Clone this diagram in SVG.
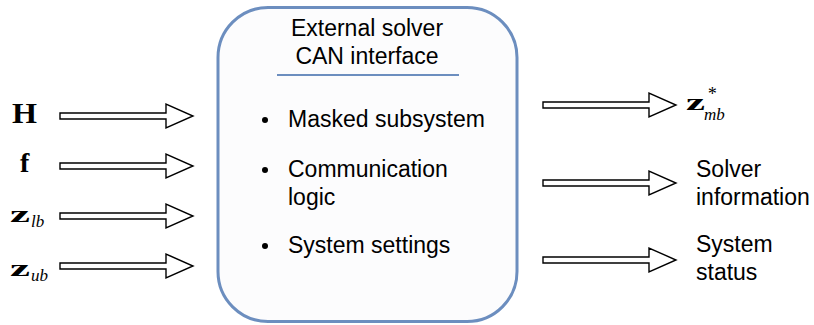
<svg xmlns="http://www.w3.org/2000/svg" width="814" height="325" viewBox="0 0 814 325">
  <style>
    .sans { font-family: "Liberation Sans", Arial, sans-serif; font-size: 23px; fill: #000; }
    .bold { font-family: "Liberation Serif", "Times New Roman", serif; font-weight: bold; fill: #000; }
    .ital { font-family: "Liberation Serif", "Times New Roman", serif; font-style: italic; fill: #000; }
    .arrow { fill: #fff; stroke: #000; stroke-width: 1.4; stroke-linejoin: miter; }
  </style>
  <rect width="814" height="325" fill="#fff"/>

  <!-- central block -->
  <g id="interface">
    <rect x="218" y="7.5" width="299" height="314" rx="50" ry="50" fill="#fcfcfd" stroke="#6c8ebf" stroke-width="3"/>
    <text class="sans" x="367" y="36" text-anchor="middle">External solver</text>
    <text class="sans" x="367" y="64" text-anchor="middle">CAN interface</text>
    <line x1="277" y1="75" x2="459" y2="75" stroke="#6c8ebf" stroke-width="2"/>
    <circle cx="265" cy="120" r="3"/>
    <text class="sans" x="288" y="127">Masked subsystem</text>
    <circle cx="265" cy="170" r="3"/>
    <text class="sans" x="288" y="177">Communication</text>
    <text class="sans" x="288" y="205">logic</text>
    <circle cx="265" cy="246" r="3"/>
    <text class="sans" x="288" y="253">System settings</text>
  </g>

  <!-- input labels -->
  <g id="in-H"><text class="bold" x="12" y="123" font-size="29" textLength="25" lengthAdjust="spacingAndGlyphs">H</text></g>
  <g id="in-f"><text class="bold" x="20" y="172" font-size="28">f</text></g>
  <g id="in-zlb">
    <text class="bold" x="10" y="222" font-size="23" textLength="20" lengthAdjust="spacingAndGlyphs">z</text>
    <text class="ital" x="31" y="227" font-size="17">lb</text>
  </g>
  <g id="in-zub">
    <text class="bold" x="10" y="276" font-size="23" textLength="20" lengthAdjust="spacingAndGlyphs">z</text>
    <text class="ital" x="31" y="281" font-size="17">ub</text>
  </g>

  <!-- output labels -->
  <g id="out-z">
    <text class="bold" x="686" y="110" font-size="23" textLength="19" lengthAdjust="spacingAndGlyphs">z</text>
    <text class="ital" x="707" y="100" font-size="18" font-style="normal">*</text>
    <text class="ital" x="704" y="120" font-size="17">mb</text>
  </g>
  <g id="out-info">
    <text class="sans" x="696" y="177">Solver</text>
    <text class="sans" x="696" y="205">information</text>
  </g>
  <g id="out-status">
    <text class="sans" x="696" y="252">System</text>
    <text class="sans" x="696" y="280">status</text>
  </g>

  <!-- block arrows -->
  <g id="connectors">
    <path class="arrow" d="M60,113 H166 V104 L193,116 L166,128 V119 H60 Z"/>
    <path class="arrow" d="M60,163 H166 V154 L193,166 L166,178 V169 H60 Z"/>
    <path class="arrow" d="M60,213 H166 V204 L193,216 L166,228 V219 H60 Z"/>
    <path class="arrow" d="M60,263 H166 V254 L193,266 L166,278 V269 H60 Z"/>
    <path class="arrow" d="M543,102 H649 V93 L676,105 L649,117 V108 H543 Z"/>
    <path class="arrow" d="M543,180 H649 V171 L676,183 L649,195 V186 H543 Z"/>
    <path class="arrow" d="M543,257 H649 V248 L676,260 L649,272 V263 H543 Z"/>
  </g>
</svg>
